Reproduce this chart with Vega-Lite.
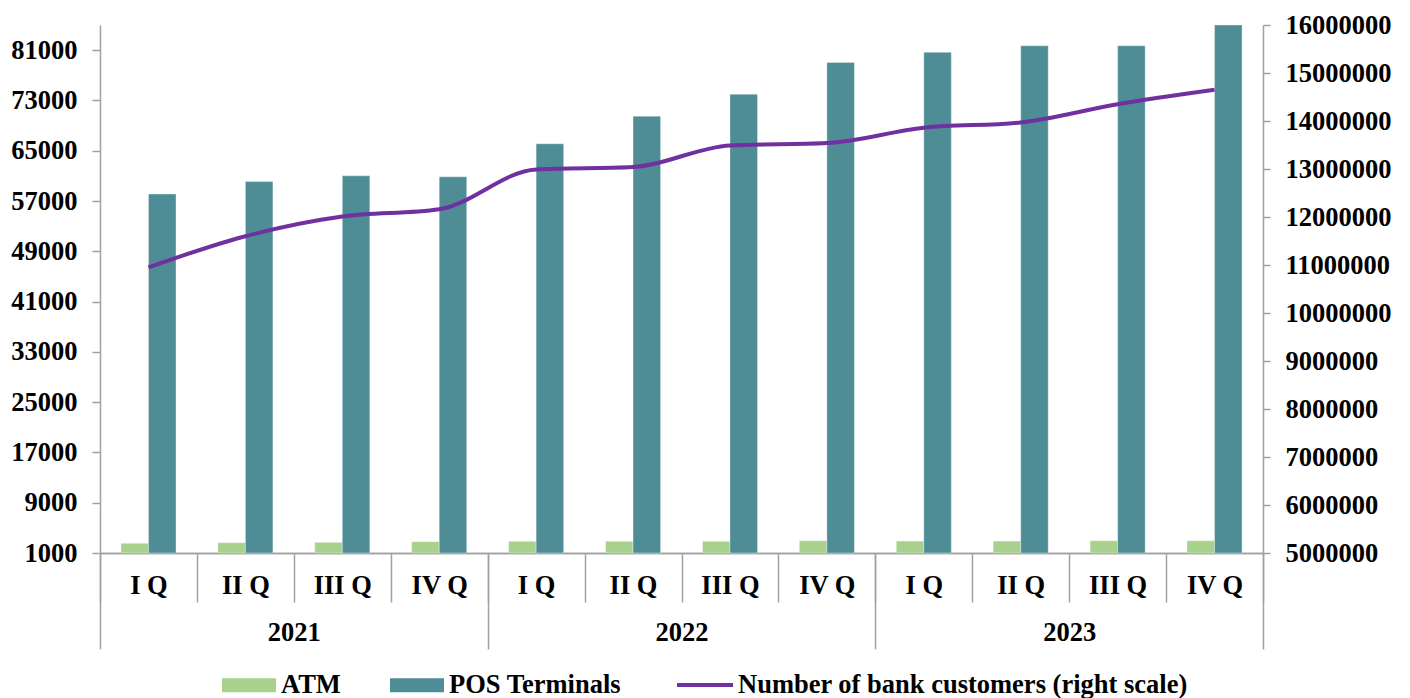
{
  "$schema": "https://vega.github.io/schema/vega-lite/v6.json",
  "width": 1163,
  "height": 528,
  "autosize": {"type": "none"},
  "padding": {"left": 100, "top": 25, "right": 147, "bottom": 145},
  "background": "white",
  "config": {
    "view": {"stroke": null},
    "font": "Liberation Serif",
    "axis": {
      "grid": false,
      "title": null,
      "labelFont": "Liberation Serif",
      "labelFontSize": 26.5,
      "labelFontWeight": "bold",
      "labelColor": "#000000",
      "domainColor": "#a0a0a0",
      "tickColor": "#a0a0a0",
      "domainWidth": 1.5,
      "tickWidth": 1.5
    },
    "legend": {
      "labelFont": "Liberation Serif",
      "labelFontSize": 26.5,
      "labelFontWeight": "bold",
      "labelColor": "#000000",
      "labelLimit": 1000
    }
  },
  "datasets": {
    "q": [
      {"key": "2021|I Q", "ATM": 2540, "POS Terminals": 58100, "cust": 10950000},
      {"key": "2021|II Q", "ATM": 2640, "POS Terminals": 60100, "cust": 11600000},
      {"key": "2021|III Q", "ATM": 2700, "POS Terminals": 61000, "cust": 12010000},
      {"key": "2021|IV Q", "ATM": 2800, "POS Terminals": 60850, "cust": 12160000},
      {"key": "2022|I Q", "ATM": 2860, "POS Terminals": 66100, "cust": 12990000},
      {"key": "2022|II Q", "ATM": 2860, "POS Terminals": 70500, "cust": 13040000},
      {"key": "2022|III Q", "ATM": 2860, "POS Terminals": 74000, "cust": 13490000},
      {"key": "2022|IV Q", "ATM": 2960, "POS Terminals": 79050, "cust": 13540000},
      {"key": "2023|I Q", "ATM": 2900, "POS Terminals": 80650, "cust": 13860000},
      {"key": "2023|II Q", "ATM": 2900, "POS Terminals": 81700, "cust": 13970000},
      {"key": "2023|III Q", "ATM": 2960, "POS Terminals": 81700, "cust": 14350000},
      {"key": "2023|IV Q", "ATM": 2960, "POS Terminals": 85000, "cust": 14650000}
    ],
    "y": [{"year": "2021"}, {"year": "2022"}, {"year": "2023"}]
  },
  "layer": [
    {
      "data": {"name": "q"},
      "transform": [{"fold": ["ATM", "POS Terminals"], "as": ["series", "value"]}],
      "mark": {"type": "bar", "stroke": "#ffffff", "strokeWidth": 0.7, "strokeOpacity": 0.5},
      "encoding": {
        "x": {
          "field": "key", "type": "nominal", "sort": null,
          "scale": {"paddingInner": 0, "paddingOuter": 0},
          "axis": {
            "orient": "bottom",
            "labelExpr": "split(datum.value, '|')[1]",
            "labelAngle": 0,
            "tickBand": "extent",
            "tickSize": 49,
            "labelPadding": -17,
            "labelBaseline": "middle",
            "labelOverlap": false,
            "labelFlush": false
          }
        },
        "xOffset": {
          "field": "series", "type": "nominal", "sort": ["ATM", "POS Terminals"],
          "scale": {"paddingInner": 0, "paddingOuter": 0.76}
        },
        "y": {
          "field": "value", "type": "quantitative",
          "scale": {"domain": [1000, 85000], "nice": false, "zero": false},
          "axis": {
            "values": [1000, 9000, 17000, 25000, 33000, 41000, 49000, 57000, 65000, 73000, 81000],
            "format": "d",
            "tickSize": 8,
            "labelPadding": 15
          }
        },
        "y2": {"datum": 1000},
        "fill": {
          "field": "series", "type": "nominal",
          "scale": {"domain": ["ATM", "POS Terminals"], "range": ["#a9d18e", "#4e8d96"]},
          "legend": {
            "title": null,
            "orient": "none",
            "direction": "horizontal",
            "legendX": 122,
            "legendY": 633,
            "padding": 0,
            "symbolType": "M-1,-0.26H1V0.26H-1Z",
            "symbolSize": 2916,
            "symbolStrokeWidth": 0,
            "symbolOpacity": 1,
            "labelOffset": 5,
            "columnPadding": 49
          }
        }
      }
    },
    {
      "data": {"name": "q"},
      "mark": {"type": "line", "interpolate": "monotone", "strokeWidth": 4},
      "encoding": {
        "x": {"field": "key", "type": "nominal", "sort": null, "scale": {"type": "point", "padding": 0.5}, "axis": null},
        "y": {
          "field": "cust", "type": "quantitative",
          "scale": {"domain": [5000000, 16000000], "nice": false, "zero": false},
          "axis": {
            "orient": "right",
            "values": [5000000, 6000000, 7000000, 8000000, 9000000, 10000000, 11000000, 12000000, 13000000, 14000000, 15000000, 16000000],
            "format": "d",
            "tickSize": 7,
            "labelPadding": 15
          }
        },
        "stroke": {
          "datum": "Number of bank customers (right scale)",
          "scale": {"domain": ["Number of bank customers (right scale)"], "range": ["#7030a0"]},
          "legend": {
            "title": null,
            "orient": "none",
            "direction": "horizontal",
            "legendX": 575,
            "legendY": 630,
            "padding": 0,
            "symbolType": "stroke",
            "symbolSize": 3136,
            "symbolStrokeWidth": 4,
            "labelOffset": 3
          }
        }
      }
    },
    {
      "data": {"name": "y"},
      "mark": {"type": "text", "text": " ", "opacity": 0},
      "encoding": {
        "x": {
          "field": "year", "type": "nominal",
          "scale": {"paddingInner": 0, "paddingOuter": 0},
          "axis": {
            "orient": "bottom",
            "labelAngle": 0,
            "tickBand": "extent",
            "tickSize": 96,
            "labelPadding": -17,
            "labelBaseline": "middle",
            "labelOverlap": false,
            "labelFlush": false
          }
        }
      }
    }
  ],
  "resolve": {
    "scale": {"x": "independent", "y": "independent"},
    "axis": {"x": "independent", "y": "independent"}
  }
}
